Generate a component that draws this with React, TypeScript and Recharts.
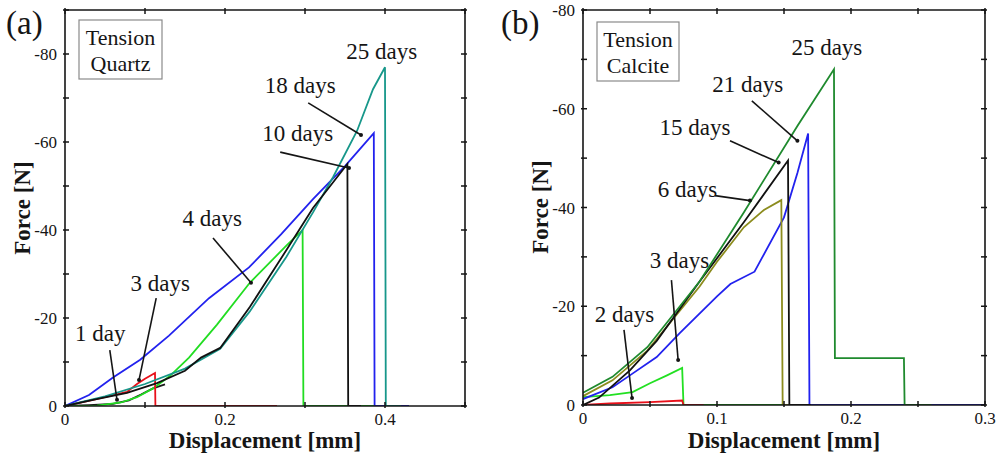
import { LineChart, Line, XAxis, YAxis, ReferenceLine, ReferenceDot } from "recharts";

type Pt = [number, number];

const FONT = '"Liberation Serif", "Times New Roman", serif';
const INK = "#151515";

// (a) Tension, Quartz — displacement [mm], force [N]
const quartz1Day: Pt[] = [[0, 0], [0.03, -0.2], [0.06, -0.5], [0.08, -1.3], [0.095, -2.6], [0.11, -4.0], [0.125, -4.9]];
const quartz3Days: Pt[] = [[0, 0], [0.035, -1.4], [0.0775, -3.2], [0.09, -5.0], [0.1, -6.2], [0.1125, -7.5], [0.113, 0], [0.265, 0]];
const quartz4Days: Pt[] = [[0, 0], [0.04, -0.1], [0.07, -0.8], [0.09, -2.0], [0.11, -4.0], [0.131, -6.8], [0.155, -11], [0.19, -18.5], [0.231, -28], [0.277, -36.5], [0.297, -40], [0.298, 0], [0.39, 0]];
const quartz10Days: Pt[] = [[0, 0], [0.035, -1.4], [0.0775, -3.0], [0.115, -5.2], [0.15, -8.0], [0.17, -11], [0.194, -13.2], [0.231, -22.5], [0.277, -35.5], [0.31, -45], [0.353, -55], [0.354, 0], [0.37, 0]];
const quartz18Days: Pt[] = [[0, 0], [0.03, -2.5], [0.06, -6.5], [0.094, -10.5], [0.13, -16], [0.18, -24.5], [0.23, -31.5], [0.27, -39], [0.31, -47], [0.35, -54.5], [0.386, -62], [0.387, 0], [0.43, 0]];
const quartz25Days: Pt[] = [[0, 0], [0.05, -2.2], [0.1, -5.0], [0.15, -8.5], [0.194, -13], [0.231, -21.5], [0.277, -34], [0.31, -44], [0.335, -52], [0.365, -62.5], [0.385, -72], [0.4, -77], [0.401, 0], [0.42, 0]];

// (b) Tension, Calcite
const calcite2Days: Pt[] = [[0, 0], [0.02, -0.3], [0.05, -0.6], [0.074, -0.9], [0.075, 0], [0.09, 0]];
const calcite3Days: Pt[] = [[0, -1.6], [0.02, -2.0], [0.037, -2.6], [0.05, -4.4], [0.0627, -6.0], [0.074, -7.5], [0.075, 0], [0.245, 0]];
const calcite6Days: Pt[] = [[0, -1.8], [0.022, -5.0], [0.048, -11], [0.087, -24], [0.1, -29], [0.12, -36], [0.135, -39.5], [0.148, -41.5], [0.149, 0], [0.16, 0]];
const calcite15Days: Pt[] = [[0, 0], [0.012, -1.5], [0.035, -7], [0.055, -13], [0.087, -25], [0.12, -37], [0.153, -49.5], [0.154, 0], [0.17, 0]];
const calcite21Days: Pt[] = [[0, -1.2], [0.022, -3.6], [0.035, -6], [0.055, -9.7], [0.072, -14.5], [0.1, -22], [0.11, -24.5], [0.128, -27], [0.15, -38], [0.16, -47], [0.168, -55], [0.169, 0], [0.3, 0]];
const calcite25Days: Pt[] = [[0, -2.5], [0.022, -5.7], [0.048, -11.7], [0.087, -25], [0.12, -39], [0.16, -56.5], [0.1873, -68], [0.188, -9.5], [0.2395, -9.5], [0.24, 0], [0.26, 0]];

const quartzXTicks = [0, 0.1, 0.2, 0.3, 0.4, 0.5];
const quartzYTicks = [0, -10, -20, -30, -40, -50, -60, -70, -80, -90];
const calciteXTicks = [0, 0.05, 0.1, 0.15, 0.2, 0.25, 0.3];
const calciteYTicks = [0, -10, -20, -30, -40, -50, -60, -70, -80];

// annotation: label, text position, arrow start, arrow tip (data coords)
type Note = { text: string; at: Pt; from?: Pt; to?: Pt };
const quartzNotes: Note[] = [
  { text: "1 day", at: [0.044, -16.3], from: [0.056, -12.7], to: [0.065, -1.4] },
  { text: "3 days", at: [0.119, -27.7], from: [0.114, -24.5], to: [0.0925, -5.9] },
  { text: "4 days", at: [0.184, -42.5], from: [0.185, -38.2], to: [0.2325, -28] },
  { text: "10 days", at: [0.291, -61.8], from: [0.269, -57.7], to: [0.355, -54.1] },
  { text: "18 days", at: [0.294, -72.7], from: [0.304, -68.9], to: [0.37, -61.6] },
  { text: "25 days", at: [0.396, -80.4] },
];
const calciteNotes: Note[] = [
  { text: "2 days", at: [0.031, -18.2], from: [0.0306, -15.2], to: [0.0366, -1.4] },
  { text: "3 days", at: [0.072, -29.1], from: [0.066, -25.3], to: [0.071, -9.1] },
  { text: "6 days", at: [0.078, -43.6], from: [0.0985, -42.4], to: [0.1246, -41.4] },
  { text: "15 days", at: [0.0836, -56.2], from: [0.1097, -53.5], to: [0.146, -49.1] },
  { text: "21 days", at: [0.123, -64.8], from: [0.126, -61.6], to: [0.16, -53.5] },
  { text: "25 days", at: [0.182, -72.3] },
];

const toRows = (pts: Pt[]) => pts.map(([x, y]) => ({ x, y }));

const isMajor = (v: number, step: number) => Math.abs(v / step - Math.round(v / step)) < 1e-6;
const fmt = (v: number) => (Math.abs(v) < 1e-9 ? "0" : String(+v.toFixed(2)));

const tickText = { fontFamily: FONT, fontSize: 17, fill: INK };

const bottomTick = (step: number) => (p: any) => (
  <g>
    <line x1={p.x} x2={p.x} y1={p.y} y2={p.y - 6} stroke={INK} strokeWidth={1.5} />
    {isMajor(p.payload.value, step) && (
      <text x={p.x} y={p.y + 17} textAnchor="middle" {...tickText}>{fmt(p.payload.value)}</text>
    )}
  </g>
);
const topTick = (p: any) => <line x1={p.x} x2={p.x} y1={p.y} y2={p.y + 6} stroke={INK} strokeWidth={1.5} />;
const leftTick = (step: number) => (p: any) => (
  <g>
    <line x1={p.x} x2={p.x + 6} y1={p.y} y2={p.y} stroke={INK} strokeWidth={1.5} />
    {isMajor(p.payload.value, step) && (
      <text x={p.x - 6} y={p.y} dy={6} textAnchor="end" {...tickText}>{fmt(p.payload.value)}</text>
    )}
  </g>
);
const rightTick = (p: any) => <line x1={p.x} x2={p.x - 6} y1={p.y} y2={p.y} stroke={INK} strokeWidth={1.5} />;

function NoteMarks({ notes }: { notes: Note[] }) {
  return (
    <>
      {notes.map((n, i) =>
        n.from && n.to ? (
          <ReferenceLine
            key={"l" + i}
            segment={[{ x: n.from[0], y: n.from[1] }, { x: n.to[0], y: n.to[1] }]}
            stroke={INK}
            strokeWidth={1.6}
          />
        ) : null
      )}
      {notes.map((n, i) =>
        n.to ? <ReferenceDot key={"d" + i} x={n.to[0]} y={n.to[1]} r={2} fill={INK} stroke="none" /> : null
      )}
      {notes.map((n, i) => (
        <ReferenceDot
          key={"t" + i}
          x={n.at[0]}
          y={n.at[1]}
          r={0}
          shape={(p: any) => (
            <text x={p.cx} y={p.cy} dy={7} textAnchor="middle" fontFamily={FONT} fontSize={23} fill={INK}>
              {n.text}
            </text>
          )}
        />
      ))}
    </>
  );
}

type Series = { data: Pt[]; color: string };

function Panel({
  series, xMax, yMin, xTicks, yTicks, xStep, notes, width, margin,
}: {
  series: Series[]; xMax: number; yMin: number; xTicks: number[]; yTicks: number[]; xStep: number;
  notes: Note[]; width: number; margin: { top: number; right: number; bottom: number; left: number };
}) {
  const axisLine = { stroke: INK, strokeWidth: 1.6 };
  return (
    <LineChart width={width} height={456} margin={margin}>
      <XAxis xAxisId={0} type="number" dataKey="x" domain={[0, xMax]} ticks={xTicks} height={1} tickSize={0} tickLine={false}
        axisLine={axisLine} tick={bottomTick(xStep)} allowDataOverflow interval={0} />
      <XAxis xAxisId="top" orientation="top" type="number" dataKey="x" domain={[0, xMax]} ticks={xTicks} height={1} tickSize={0}
        tickLine={false} axisLine={axisLine} tick={topTick} allowDataOverflow interval={0} />
      <YAxis yAxisId={0} type="number" dataKey="y" domain={[yMin, 0]} reversed ticks={yTicks} width={1} tickSize={0}
        tickLine={false} axisLine={axisLine} tick={leftTick(20)} allowDataOverflow interval={0} />
      <YAxis yAxisId="right" orientation="right" type="number" domain={[yMin, 0]} reversed ticks={yTicks} width={1} tickSize={0}
        tickLine={false} axisLine={axisLine} tick={rightTick} allowDataOverflow interval={0} />
      {series.map((s, i) => (
        <Line key={i} data={toRows(s.data)} dataKey="y" type="linear" stroke={s.color} strokeWidth={1.8}
          dot={false} activeDot={false} isAnimationActive={false} legendType="none" />
      ))}
      <NoteMarks notes={notes} />
    </LineChart>
  );
}

const quartzSeries: Series[] = [
  { data: quartz1Day, color: "#1a1a1a" },
  { data: quartz4Days, color: "#22dd22" },
  { data: quartz3Days, color: "#e8101a" },
  { data: quartz18Days, color: "#2222ee" },
  { data: quartz25Days, color: "#17978a" },
  { data: quartz10Days, color: "#111111" },
];
const calciteSeries: Series[] = [
  { data: calcite3Days, color: "#22e022" },
  { data: calcite2Days, color: "#e8101a" },
  { data: calcite21Days, color: "#2222ee" },
  { data: calcite6Days, color: "#8c8c1e" },
  { data: calcite15Days, color: "#111111" },
  { data: calcite25Days, color: "#1f8a2e" },
];

export default function App() {
  const title = { fontFamily: FONT, fontWeight: 700, fontSize: 23, fill: INK } as const;
  const boxText = { fontFamily: FONT, fontSize: 22, fill: INK, textAnchor: "middle" } as const;
  return (
    <div style={{ position: "absolute", left: 0, top: 0, width: 997, height: 456, background: "#fff" }}>
      <div style={{ position: "absolute", left: 0, top: 0 }}>
        <Panel series={quartzSeries} xMax={0.5} yMin={-90} xTicks={quartzXTicks} yTicks={quartzYTicks} xStep={0.2}
          notes={quartzNotes} width={480} margin={{ top: 9, right: 14, bottom: 49, left: 64 }} />
      </div>
      <div style={{ position: "absolute", left: 500, top: 0 }}>
        <Panel series={calciteSeries} xMax={0.3} yMin={-80} xTicks={calciteXTicks} yTicks={calciteYTicks} xStep={0.1}
          notes={calciteNotes} width={497} margin={{ top: 9, right: 11, bottom: 50, left: 82 }} />
      </div>
      <svg width={997} height={456} style={{ position: "absolute", left: 0, top: 0, pointerEvents: "none" }}>
        <text x={6} y={34} fontFamily={FONT} fontSize={33} fill={INK}>(a)</text>
        <text x={501} y={34} fontFamily={FONT} fontSize={33} fill={INK}>(b)</text>
        <rect x={79} y={20} width={83} height={59} fill="#fff" stroke="#8a8a8a" strokeWidth={1.2} />
        <text x={120.5} y={45} {...boxText}>Tension</text>
        <text x={120.5} y={71} {...boxText}>Quartz</text>
        <rect x={597} y={22} width={82} height={59} fill="#fff" stroke="#8a8a8a" strokeWidth={1.2} />
        <text x={638} y={47} {...boxText}>Tension</text>
        <text x={638} y={73} {...boxText}>Calcite</text>
        <text x={265} y={448} textAnchor="middle" {...title}>Displacement [mm]</text>
        <text x={784} y={448} textAnchor="middle" {...title}>Displacement [mm]</text>
        <text transform="translate(30,208) rotate(-90)" textAnchor="middle" {...title}>Force [N]</text>
        <text transform="translate(548,207) rotate(-90)" textAnchor="middle" {...title}>Force [N]</text>
      </svg>
    </div>
  );
}
